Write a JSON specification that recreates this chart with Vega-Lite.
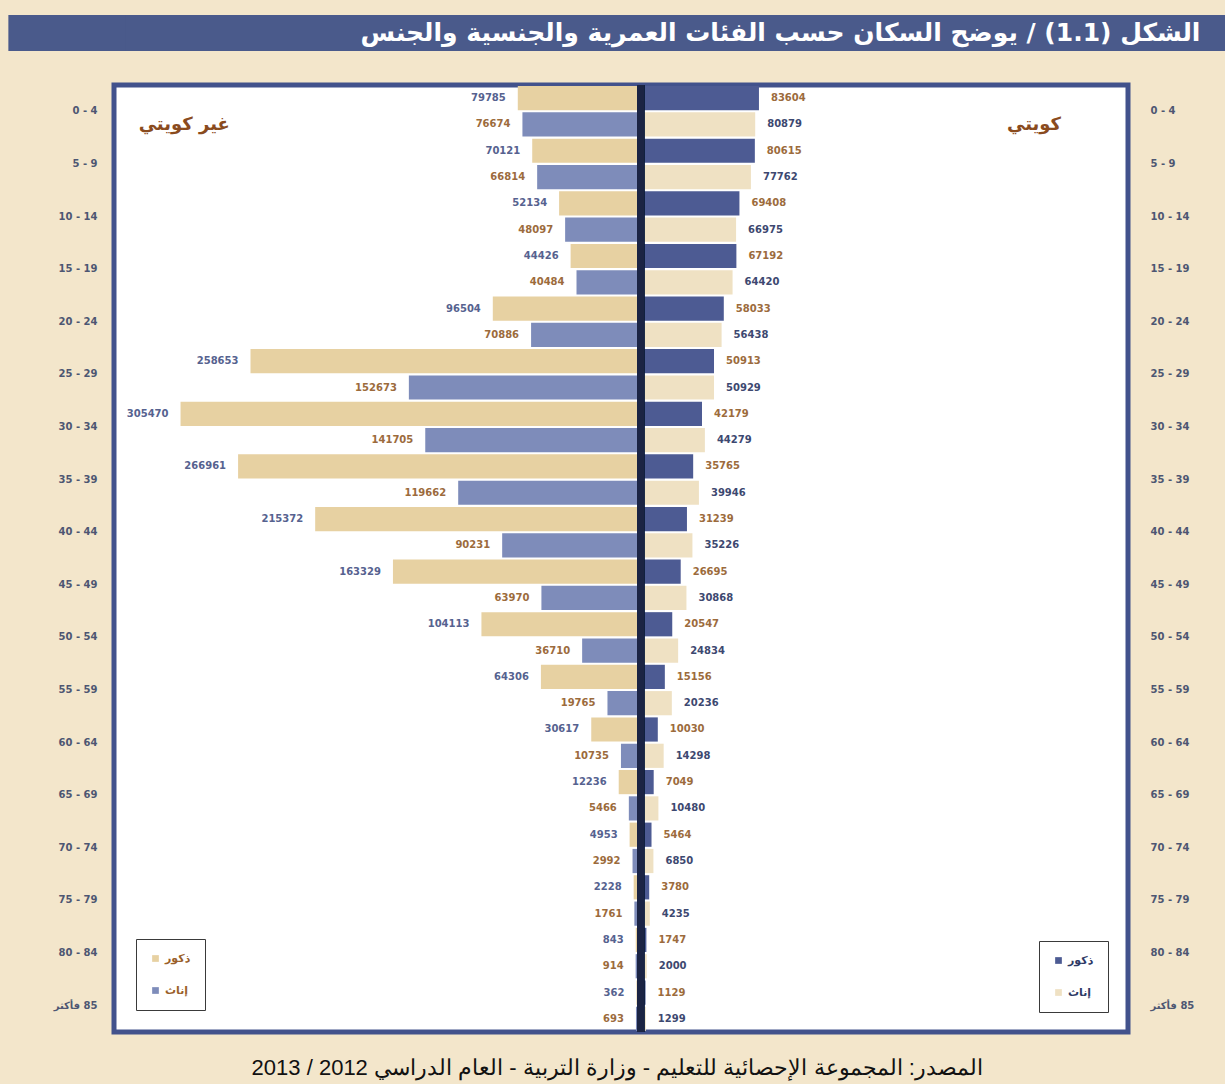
{
  "$schema": "https://vega.github.io/schema/vega-lite/v6.json",
  "background": "#F3E6CB",
  "padding": {"left": 8, "top": 15, "right": 0, "bottom": 5},
  "columns": 1,
  "spacing": 28,
  "title": {
    "text": "المصدر: المجموعة الإحصائية للتعليم - وزارة التربية - العام الدراسي 2012 / 2013",
    "orient": "bottom", "anchor": "middle", "fontSize": 22, "font": "Liberation Sans",
    "fontWeight": "normal", "color": "#111111", "offset": 20
  },
  "datasets": {
    "nonkw": [
      {"age": "0 - 4", "sex": "ذكور", "value": 79785}, {"age": "0 - 4", "sex": "إناث", "value": 76674},
      {"age": "5 - 9", "sex": "ذكور", "value": 70121}, {"age": "5 - 9", "sex": "إناث", "value": 66814},
      {"age": "10 - 14", "sex": "ذكور", "value": 52134}, {"age": "10 - 14", "sex": "إناث", "value": 48097},
      {"age": "15 - 19", "sex": "ذكور", "value": 44426}, {"age": "15 - 19", "sex": "إناث", "value": 40484},
      {"age": "20 - 24", "sex": "ذكور", "value": 96504}, {"age": "20 - 24", "sex": "إناث", "value": 70886},
      {"age": "25 - 29", "sex": "ذكور", "value": 258653}, {"age": "25 - 29", "sex": "إناث", "value": 152673},
      {"age": "30 - 34", "sex": "ذكور", "value": 305470}, {"age": "30 - 34", "sex": "إناث", "value": 141705},
      {"age": "35 - 39", "sex": "ذكور", "value": 266961}, {"age": "35 - 39", "sex": "إناث", "value": 119662},
      {"age": "40 - 44", "sex": "ذكور", "value": 215372}, {"age": "40 - 44", "sex": "إناث", "value": 90231},
      {"age": "45 - 49", "sex": "ذكور", "value": 163329}, {"age": "45 - 49", "sex": "إناث", "value": 63970},
      {"age": "50 - 54", "sex": "ذكور", "value": 104113}, {"age": "50 - 54", "sex": "إناث", "value": 36710},
      {"age": "55 - 59", "sex": "ذكور", "value": 64306}, {"age": "55 - 59", "sex": "إناث", "value": 19765},
      {"age": "60 - 64", "sex": "ذكور", "value": 30617}, {"age": "60 - 64", "sex": "إناث", "value": 10735},
      {"age": "65 - 69", "sex": "ذكور", "value": 12236}, {"age": "65 - 69", "sex": "إناث", "value": 5466},
      {"age": "70 - 74", "sex": "ذكور", "value": 4953}, {"age": "70 - 74", "sex": "إناث", "value": 2992},
      {"age": "75 - 79", "sex": "ذكور", "value": 2228}, {"age": "75 - 79", "sex": "إناث", "value": 1761},
      {"age": "80 - 84", "sex": "ذكور", "value": 843}, {"age": "80 - 84", "sex": "إناث", "value": 914},
      {"age": "85 فأكثر", "sex": "ذكور", "value": 362}, {"age": "85 فأكثر", "sex": "إناث", "value": 693}
    ],
    "kw": [
      {"age": "0 - 4", "sex": "ذكور", "value": 83604}, {"age": "0 - 4", "sex": "إناث", "value": 80879},
      {"age": "5 - 9", "sex": "ذكور", "value": 80615}, {"age": "5 - 9", "sex": "إناث", "value": 77762},
      {"age": "10 - 14", "sex": "ذكور", "value": 69408}, {"age": "10 - 14", "sex": "إناث", "value": 66975},
      {"age": "15 - 19", "sex": "ذكور", "value": 67192}, {"age": "15 - 19", "sex": "إناث", "value": 64420},
      {"age": "20 - 24", "sex": "ذكور", "value": 58033}, {"age": "20 - 24", "sex": "إناث", "value": 56438},
      {"age": "25 - 29", "sex": "ذكور", "value": 50913}, {"age": "25 - 29", "sex": "إناث", "value": 50929},
      {"age": "30 - 34", "sex": "ذكور", "value": 42179}, {"age": "30 - 34", "sex": "إناث", "value": 44279},
      {"age": "35 - 39", "sex": "ذكور", "value": 35765}, {"age": "35 - 39", "sex": "إناث", "value": 39946},
      {"age": "40 - 44", "sex": "ذكور", "value": 31239}, {"age": "40 - 44", "sex": "إناث", "value": 35226},
      {"age": "45 - 49", "sex": "ذكور", "value": 26695}, {"age": "45 - 49", "sex": "إناث", "value": 30868},
      {"age": "50 - 54", "sex": "ذكور", "value": 20547}, {"age": "50 - 54", "sex": "إناث", "value": 24834},
      {"age": "55 - 59", "sex": "ذكور", "value": 15156}, {"age": "55 - 59", "sex": "إناث", "value": 20236},
      {"age": "60 - 64", "sex": "ذكور", "value": 10030}, {"age": "60 - 64", "sex": "إناث", "value": 14298},
      {"age": "65 - 69", "sex": "ذكور", "value": 7049}, {"age": "65 - 69", "sex": "إناث", "value": 10480},
      {"age": "70 - 74", "sex": "ذكور", "value": 5464}, {"age": "70 - 74", "sex": "إناث", "value": 6850},
      {"age": "75 - 79", "sex": "ذكور", "value": 3780}, {"age": "75 - 79", "sex": "إناث", "value": 4235},
      {"age": "80 - 84", "sex": "ذكور", "value": 1747}, {"age": "80 - 84", "sex": "إناث", "value": 2000},
      {"age": "85 فأكثر", "sex": "ذكور", "value": 1129}, {"age": "85 فأكثر", "sex": "إناث", "value": 1299}
    ]
  },
  "concat": [
    {
      "width": 1112, "height": 36,
      "view": {"fill": "#4A5A8B", "stroke": null},
      "data": {"values": [{"t": "الشكل (1.1) / يوضح السكان حسب الفئات العمرية والجنسية والجنس"}]},
      "layer": [
        {
          "mark": {"type": "rect", "color": "#4A5A8B"},
          "encoding": {
            "x": {"datum": -0.095, "type": "quantitative", "scale": {"domain": [0, 1]}, "axis": null},
            "x2": {"datum": 0.01},
            "y": {"datum": 0, "type": "quantitative", "scale": {"domain": [0, 1]}, "axis": null},
            "y2": {"datum": 1}
          }
        },
        {
          "mark": {"type": "text", "align": "right", "baseline": "middle", "color": "white", "fontSize": 25, "fontWeight": "bold", "font": "DejaVu Sans"},
          "encoding": {
            "x": {"datum": 0.977, "type": "quantitative", "scale": {"domain": [0, 1]}, "axis": null},
            "text": {"field": "t"}
          }
        }
      ]
    },
    {
      "width": 1014, "height": 947,
      "view": {"fill": "white", "stroke": "#42528C", "strokeWidth": 5},
      "resolve": {"scale": {"x": "independent", "color": "independent"}, "axis": {"y": "independent"}},
      "layer": [
        {
          "data": {"name": "nonkw"},
          "layer": [
            {
              "mark": {"type": "bar"},
              "encoding": {
                "x": {"field": "value", "type": "quantitative", "stack": null, "scale": {"domain": [-328580, 350000], "reverse": true, "nice": false, "zero": false}, "axis": null},
                "y": {"field": "age", "type": "nominal", "scale": {"domain": ["0 - 4","5 - 9","10 - 14","15 - 19","20 - 24","25 - 29","30 - 34","35 - 39","40 - 44","45 - 49","50 - 54","55 - 59","60 - 64","65 - 69","70 - 74","75 - 79","80 - 84","85 فأكثر"], "paddingInner": 0, "paddingOuter": 0},
                      "axis": {"title": null, "orient": "left", "labelPadding": 17, "minExtent": 102, "maxExtent": 102, "domain": false, "ticks": false, "labelFontSize": 10, "labelFontWeight": "bold", "labelColor": "#4D5672", "labelFont": "DejaVu Sans", "labelExpr": "datum.label === '85 فأكثر' ? '\u200F' + datum.label : datum.label"}},
                "yOffset": {"field": "sex", "type": "nominal", "scale": {"domain": ["ذكور", "إناث"], "paddingInner": 0.08, "paddingOuter": 0.04}},
                "color": {"field": "sex", "type": "nominal", "scale": {"domain": ["ذكور", "إناث"], "range": ["#E7D1A2", "#7E8CBA"]},
                          "legend": {"orient": "bottom-left", "offset": 22, "title": null, "strokeColor": "#3A3A3A", "fillColor": "white", "padding": 14, "rowPadding": 20, "symbolType": "square", "symbolSize": 45, "symbolStrokeWidth": 0, "labelFontSize": 11, "labelFontWeight": "bold", "labelColor": "#9A5F2A", "labelFont": "DejaVu Sans", "cornerRadius": 0}}
              }
            },
            {
              "mark": {"type": "text", "align": "right", "baseline": "middle", "dx": -12, "fontSize": 10, "fontWeight": "bold", "font": "DejaVu Sans"},
              "encoding": {
                "x": {"field": "value", "type": "quantitative", "stack": null, "scale": {"domain": [-328580, 350000], "reverse": true, "nice": false, "zero": false}, "axis": null},
                "y": {"field": "age", "type": "nominal", "scale": {"domain": ["0 - 4","5 - 9","10 - 14","15 - 19","20 - 24","25 - 29","30 - 34","35 - 39","40 - 44","45 - 49","50 - 54","55 - 59","60 - 64","65 - 69","70 - 74","75 - 79","80 - 84","85 فأكثر"], "paddingInner": 0, "paddingOuter": 0},
                      "axis": {"title": null, "orient": "left", "labelPadding": 17, "minExtent": 102, "maxExtent": 102, "domain": false, "ticks": false, "labelFontSize": 10, "labelFontWeight": "bold", "labelColor": "#4D5672", "labelFont": "DejaVu Sans", "labelExpr": "datum.label === '85 فأكثر' ? '\u200F' + datum.label : datum.label"}},
                "yOffset": {"field": "sex", "type": "nominal", "scale": {"domain": ["ذكور", "إناث"], "paddingInner": 0.08, "paddingOuter": 0.04}},
                "text": {"field": "value", "type": "quantitative", "format": "d"},
                "color": {"condition": {"test": "datum.sex === 'ذكور'", "value": "#56628F"}, "value": "#9C6B3C"}
              }
            },
            {
              "data": {"values": [{"n": "غير كويتي"}]},
              "mark": {"type": "text", "align": "center", "baseline": "middle", "dy": 14, "fontSize": 18, "fontWeight": "bold", "color": "#8A4B1E", "font": "DejaVu Sans"},
              "encoding": {
                "x": {"datum": 303000, "type": "quantitative", "scale": {"domain": [-328580, 350000], "reverse": true, "nice": false, "zero": false}, "axis": null},
                "y": {"datum": "0 - 4", "type": "nominal", "scale": {"domain": ["0 - 4","5 - 9","10 - 14","15 - 19","20 - 24","25 - 29","30 - 34","35 - 39","40 - 44","45 - 49","50 - 54","55 - 59","60 - 64","65 - 69","70 - 74","75 - 79","80 - 84","85 فأكثر"], "paddingInner": 0, "paddingOuter": 0},
                      "axis": {"title": null, "orient": "left", "labelPadding": 17, "minExtent": 102, "maxExtent": 102, "domain": false, "ticks": false, "labelFontSize": 10, "labelFontWeight": "bold", "labelColor": "#4D5672", "labelFont": "DejaVu Sans", "labelExpr": "datum.label === '85 فأكثر' ? '\u200F' + datum.label : datum.label"}},
                "text": {"field": "n"}
              }
            }
          ]
        },
        {
          "data": {"name": "kw"},
          "layer": [
            {
              "mark": {"type": "bar"},
              "encoding": {
                "x": {"field": "value", "type": "quantitative", "stack": null, "scale": {"domain": [-385455, 352000], "nice": false, "zero": false}, "axis": null},
                "y": {"field": "age", "type": "nominal", "scale": {"domain": ["0 - 4","5 - 9","10 - 14","15 - 19","20 - 24","25 - 29","30 - 34","35 - 39","40 - 44","45 - 49","50 - 54","55 - 59","60 - 64","65 - 69","70 - 74","75 - 79","80 - 84","85 فأكثر"], "paddingInner": 0, "paddingOuter": 0},
                      "axis": {"title": null, "orient": "right", "labelPadding": 22, "domain": false, "ticks": false, "labelFontSize": 10, "labelFontWeight": "bold", "labelColor": "#4D5672", "labelFont": "DejaVu Sans", "labelExpr": "datum.label === '85 فأكثر' ? '\u200F' + datum.label : datum.label"}},
                "yOffset": {"field": "sex", "type": "nominal", "scale": {"domain": ["ذكور", "إناث"], "paddingInner": 0.08, "paddingOuter": 0.04}},
                "color": {"field": "sex", "type": "nominal", "scale": {"domain": ["ذكور", "إناث"], "range": ["#4D5B93", "#EFE1C3"]},
                          "legend": {"orient": "bottom-right", "offset": 20, "title": null, "strokeColor": "#3A3A3A", "fillColor": "white", "padding": 14, "rowPadding": 20, "symbolType": "square", "symbolSize": 45, "symbolStrokeWidth": 0, "labelFontSize": 11, "labelFontWeight": "bold", "labelColor": "#2E3A66", "labelFont": "DejaVu Sans", "cornerRadius": 0}}
              }
            },
            {
              "mark": {"type": "text", "align": "left", "baseline": "middle", "dx": 12, "fontSize": 10, "fontWeight": "bold", "font": "DejaVu Sans"},
              "encoding": {
                "x": {"field": "value", "type": "quantitative", "stack": null, "scale": {"domain": [-385455, 352000], "nice": false, "zero": false}, "axis": null},
                "y": {"field": "age", "type": "nominal", "scale": {"domain": ["0 - 4","5 - 9","10 - 14","15 - 19","20 - 24","25 - 29","30 - 34","35 - 39","40 - 44","45 - 49","50 - 54","55 - 59","60 - 64","65 - 69","70 - 74","75 - 79","80 - 84","85 فأكثر"], "paddingInner": 0, "paddingOuter": 0},
                      "axis": {"title": null, "orient": "right", "labelPadding": 22, "domain": false, "ticks": false, "labelFontSize": 10, "labelFontWeight": "bold", "labelColor": "#4D5672", "labelFont": "DejaVu Sans", "labelExpr": "datum.label === '85 فأكثر' ? '\u200F' + datum.label : datum.label"}},
                "yOffset": {"field": "sex", "type": "nominal", "scale": {"domain": ["ذكور", "إناث"], "paddingInner": 0.08, "paddingOuter": 0.04}},
                "text": {"field": "value", "type": "quantitative", "format": "d"},
                "color": {"condition": {"test": "datum.sex === 'ذكور'", "value": "#9C6B3C"}, "value": "#3D4870"}
              }
            },
            {
              "data": {"values": [{"n": "كويتي"}]},
              "mark": {"type": "text", "align": "center", "baseline": "middle", "dy": 14, "fontSize": 18, "fontWeight": "bold", "color": "#8A4B1E", "font": "DejaVu Sans"},
              "encoding": {
                "x": {"datum": 283600, "type": "quantitative", "scale": {"domain": [-385455, 352000], "nice": false, "zero": false}, "axis": null},
                "y": {"datum": "0 - 4", "type": "nominal", "scale": {"domain": ["0 - 4","5 - 9","10 - 14","15 - 19","20 - 24","25 - 29","30 - 34","35 - 39","40 - 44","45 - 49","50 - 54","55 - 59","60 - 64","65 - 69","70 - 74","75 - 79","80 - 84","85 فأكثر"], "paddingInner": 0, "paddingOuter": 0},
                      "axis": {"title": null, "orient": "right", "labelPadding": 22, "domain": false, "ticks": false, "labelFontSize": 10, "labelFontWeight": "bold", "labelColor": "#4D5672", "labelFont": "DejaVu Sans", "labelExpr": "datum.label === '85 فأكثر' ? '\u200F' + datum.label : datum.label"}},
                "text": {"field": "n"}
              }
            },
            {
              "mark": {"type": "rule", "color": "#1B2444", "strokeWidth": 7},
              "encoding": {
                "x": {"datum": -2500, "type": "quantitative", "scale": {"domain": [-385455, 352000], "nice": false, "zero": false}, "axis": null}
              }
            }
          ]
        }
      ]
    }
  ]
}
